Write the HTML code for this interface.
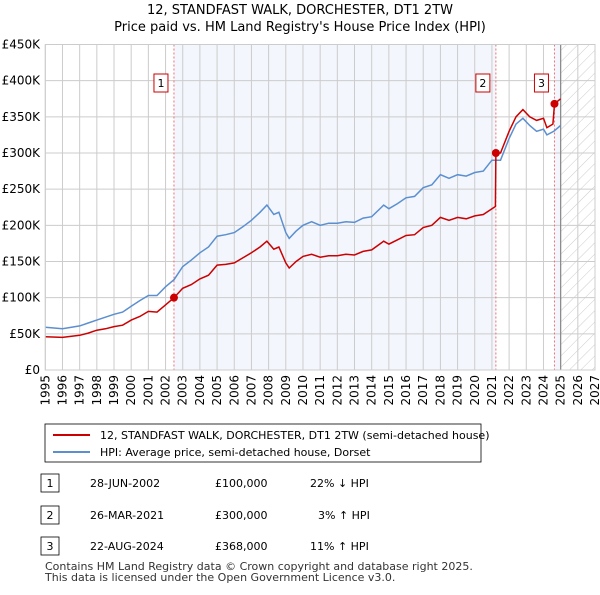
<!DOCTYPE html>
<html><head><meta charset="utf-8"><style>
body{margin:0;background:#fff;font-family:"Liberation Sans","DejaVu Sans",sans-serif;}
svg text{font-family:"DejaVu Sans","Liberation Sans",sans-serif;}
</style></head><body>
<svg id="chart" width="600" height="590" xmlns="http://www.w3.org/2000/svg">
<defs><pattern id="hatch" width="8" height="8" patternUnits="userSpaceOnUse" patternTransform="rotate(45)"><line x1="0" y1="0" x2="0" y2="8" stroke="#ccc" stroke-width="1"/></pattern></defs>
<text x="300" y="14" text-anchor="middle" font-size="13">12, STANDFAST WALK, DORCHESTER, DT1 2TW</text>
<text x="300" y="31" text-anchor="middle" font-size="13">Price paid vs. HM Land Registry's House Price Index (HPI)</text>
<g id="plot"></g>
<rect x="45" y="424" width="436" height="38" fill="#fff" stroke="#000" stroke-width="0.8"/>
<line x1="53" y1="435" x2="90" y2="435" stroke="#cc0000" stroke-width="2"/>
<text x="100" y="439" font-size="11">12, STANDFAST WALK, DORCHESTER, DT1 2TW (semi-detached house)</text>
<line x1="53" y1="452" x2="90" y2="452" stroke="#5b8fd0" stroke-width="2"/>
<text x="100" y="456" font-size="11">HPI: Average price, semi-detached house, Dorset</text>
<g font-size="11">
<rect x="41" y="474" width="18" height="18" fill="#fff" stroke="#000" stroke-width="0.8"/><text x="50" y="487" text-anchor="middle">1</text>
<text x="90" y="487">28-JUN-2002</text><text x="215" y="487">£100,000</text><text x="310" y="487">22% ↓ HPI</text>
<rect x="41" y="506" width="18" height="18" fill="#fff" stroke="#000" stroke-width="0.8"/><text x="50" y="519" text-anchor="middle">2</text>
<text x="90" y="519">26-MAR-2021</text><text x="215" y="519">£300,000</text><text x="318" y="519">3% ↑ HPI</text>
<rect x="41" y="537" width="18" height="18" fill="#fff" stroke="#000" stroke-width="0.8"/><text x="50" y="550" text-anchor="middle">3</text>
<text x="90" y="550">22-AUG-2024</text><text x="215" y="550">£368,000</text><text x="310" y="550">11% ↑ HPI</text>
</g>
<text x="45" y="570" font-size="11" fill="#333">Contains HM Land Registry data © Crown copyright and database right 2025.</text>
<text x="45" y="581" font-size="11" fill="#333">This data is licensed under the Open Government Licence v3.0.</text>
</svg>
<script>
const yTicks=[0,50,100,150,200,250,300,350,400,450];
const yTickLabels=["£0","£50K","£100K","£150K","£200K","£250K","£300K","£350K","£400K","£450K"];
const xYears=[1995,1996,1997,1998,1999,2000,2001,2002,2003,2004,2005,2006,2007,2008,2009,2010,2011,2012,2013,2014,2015,2016,2017,2018,2019,2020,2021,2022,2023,2024,2025,2026,2027];
const hpiT=[1995,1996,1997,1997.5,1998,1998.5,1999,1999.5,2000,2000.5,2001,2001.5,2002,2002.5,2003,2003.5,2004,2004.5,2005,2005.5,2006,2006.5,2007,2007.5,2007.9,2008.3,2008.6,2009,2009.2,2009.6,2010,2010.5,2011,2011.5,2012,2012.5,2013,2013.5,2014,2014.7,2015,2015.5,2016,2016.5,2017,2017.5,2018,2018.5,2019,2019.5,2020,2020.5,2021,2021.5,2022,2022.4,2022.8,2023.2,2023.6,2024,2024.2,2024.6,2025];
const hpiV=[59,57,61,65,69,73,77,80,88,96,103,103,115,125,143,152,162,170,185,187,190,198,207,218,228,215,218,190,182,192,200,205,200,203,203,205,204,210,212,228,223,230,238,240,252,256,270,265,270,268,273,275,290,290,320,340,348,338,330,333,325,330,338];
const priceT=[1995,1996,1997,1997.5,1998,1998.5,1999,1999.5,2000,2000.5,2001,2001.5,2002,2002.49,2003,2003.5,2004,2004.5,2005,2005.5,2006,2006.5,2007,2007.5,2007.9,2008.3,2008.6,2009,2009.2,2009.6,2010,2010.5,2011,2011.5,2012,2012.5,2013,2013.5,2014,2014.7,2015,2015.5,2016,2016.5,2017,2017.5,2018,2018.5,2019,2019.5,2020,2020.5,2021.2,2021.23,2021.5,2022,2022.4,2022.8,2023.2,2023.6,2024,2024.2,2024.55,2024.64,2025];
const priceV=[46,45,48,51,55,57,60,62,69,74,81,80,90,100,113,118,126,131,145,146,148,155,162,170,178,167,170,148,141,150,157,160,156,158,158,160,159,164,166,178,174,180,186,187,197,200,211,207,211,209,213,215,226,300,300,330,350,360,350,345,348,335,340,368,375];
const salesT=[2002.49,2021.23,2024.64];
const salesV=[100,300,368];
const salesLabels=["1","2","3"];
const X0=45.3,X1=595,Y0=370,Y1=44.5;
const xs=t=>X0+(t-1995)*(X1-X0)/32;
const ys=v=>Y0-v*(Y0-Y1)/450;
const NS="http://www.w3.org/2000/svg";
const g=document.getElementById('plot');
function mk(tag,at){const e=document.createElementNS(NS,tag);for(const k in at)e.setAttribute(k,at[k]);g.appendChild(e);return e;}
let r=mk('rect',{x:xs(salesT[0]),y:Y1,width:xs(salesT[1])-xs(salesT[0]),height:Y0-Y1,fill:'#f3f6fd'});


r=mk('rect',{x:xs(salesT[2]),y:Y1,width:xs(2025)-xs(salesT[2]),height:Y0-Y1,fill:'#f3f6fd'});


r=mk('rect',{x:xs(2025),y:Y1,width:X1-xs(2025),height:Y0-Y1,fill:'url(#hatch)'});


yTicks.forEach((v,i)=>{
 let l=mk('line',{x1:X0,x2:X1,y1:ys(v),y2:ys(v),stroke:'#ccc','stroke-width':1});
 
 
 let t=mk('text',{x:40,y:ys(v)+4,'text-anchor':'end','font-size':12});t.textContent=yTickLabels[i];
 
 
});
xYears.forEach(y=>{
 let l=mk('line',{x1:xs(y),x2:xs(y),y1:Y1,y2:Y0,stroke:'#ccc','stroke-width':1});
 
 
 let t=mk('text',{x:0,y:0,'text-anchor':'end','font-size':12,transform:`translate(${xs(y)+4},375) rotate(-90)`});t.textContent=y;
 
 
});
let b=mk('line',{x1:xs(2025),x2:xs(2025),y1:Y1,y2:Y0,stroke:'#888','stroke-width':1.2});


salesT.forEach((t,i)=>{
 let l=mk('line',{x1:xs(t),x2:xs(t),y1:Y1,y2:Y0,stroke:'#f07070','stroke-width':1,'stroke-dasharray':'2,2'});
 
 
});
const path=(T,V)=>T.map((t,i)=>(i?'L':'M')+xs(t).toFixed(1)+','+ys(V[i]).toFixed(1)).join('');
let p=mk('path',{d:path(hpiT,hpiV),fill:'none',stroke:'#5b8fd0','stroke-width':1.5});


p=mk('path',{d:path(priceT,priceV),fill:'none',stroke:'#cc0000','stroke-width':1.5});


salesT.forEach((t,i)=>{
 let c=mk('circle',{cx:xs(t),cy:ys(salesV[i]),r:4,fill:'#cc0000'});
 
 
 let bx=mk('rect',{x:xs(t)-20,y:74,width:14,height:18,fill:'#fff',stroke:'#cc0000','stroke-width':1});
 
 
 let tx=mk('text',{x:xs(t)-13,y:87,'text-anchor':'middle','font-size':11});tx.textContent=salesLabels[i];
 
 
});
let ax=mk('rect',{x:X0,y:Y1,width:X1-X0,height:Y0-Y1,fill:'none',stroke:'#ccc','stroke-width':1});


</script>
</body></html>
